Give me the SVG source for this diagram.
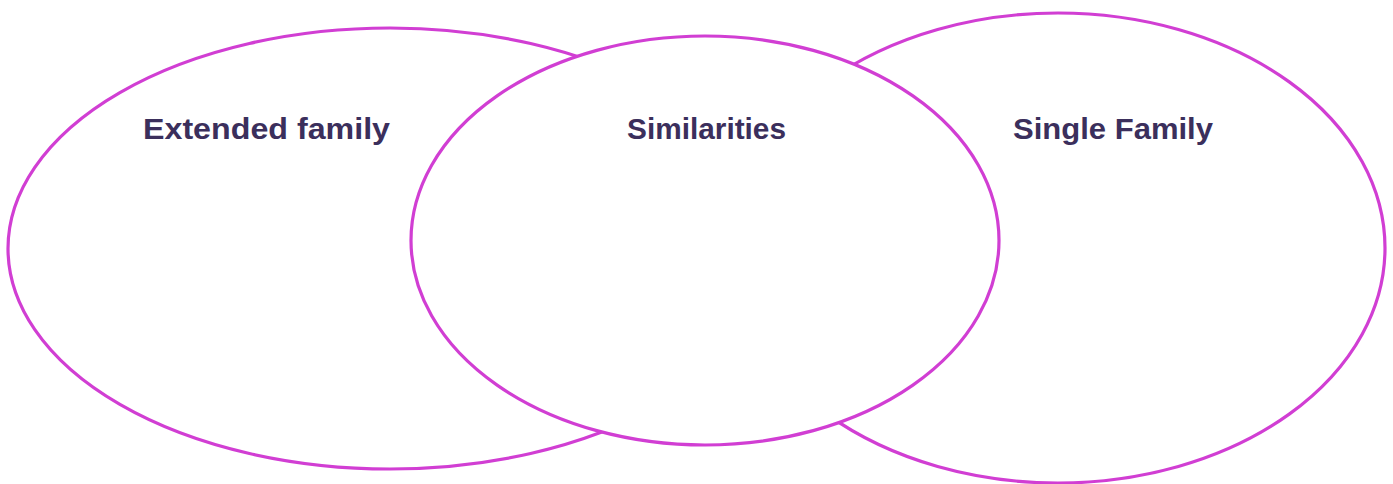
<svg xmlns="http://www.w3.org/2000/svg" width="1393" height="484" viewBox="0 0 1393 484">
<style>
.c{fill:#ffffff;stroke:#D13ED3;stroke-width:3.2}
.t{font-family:"Liberation Sans",Arial,sans-serif;font-weight:bold;font-size:30px;fill:#3B2F5C;text-anchor:middle}
</style>
<rect width="1393" height="484" fill="#ffffff"/>
<g id="extended">
<ellipse class="c" cx="390" cy="248.5" rx="382" ry="220.5"/>
<text class="t" x="266.5" y="139" textLength="247" lengthAdjust="spacingAndGlyphs">Extended family</text>
</g>
<g id="single">
<ellipse class="c" cx="1058" cy="248" rx="327" ry="235"/>
<text class="t" x="1113" y="139" textLength="200" lengthAdjust="spacingAndGlyphs">Single Family</text>
</g>
<g id="similarities">
<ellipse class="c" cx="705" cy="240.5" rx="294" ry="204.5"/>
<text class="t" x="706.5" y="139" textLength="159" lengthAdjust="spacingAndGlyphs">Similarities</text>
</g>
<g id="connectors"/>
</svg>
